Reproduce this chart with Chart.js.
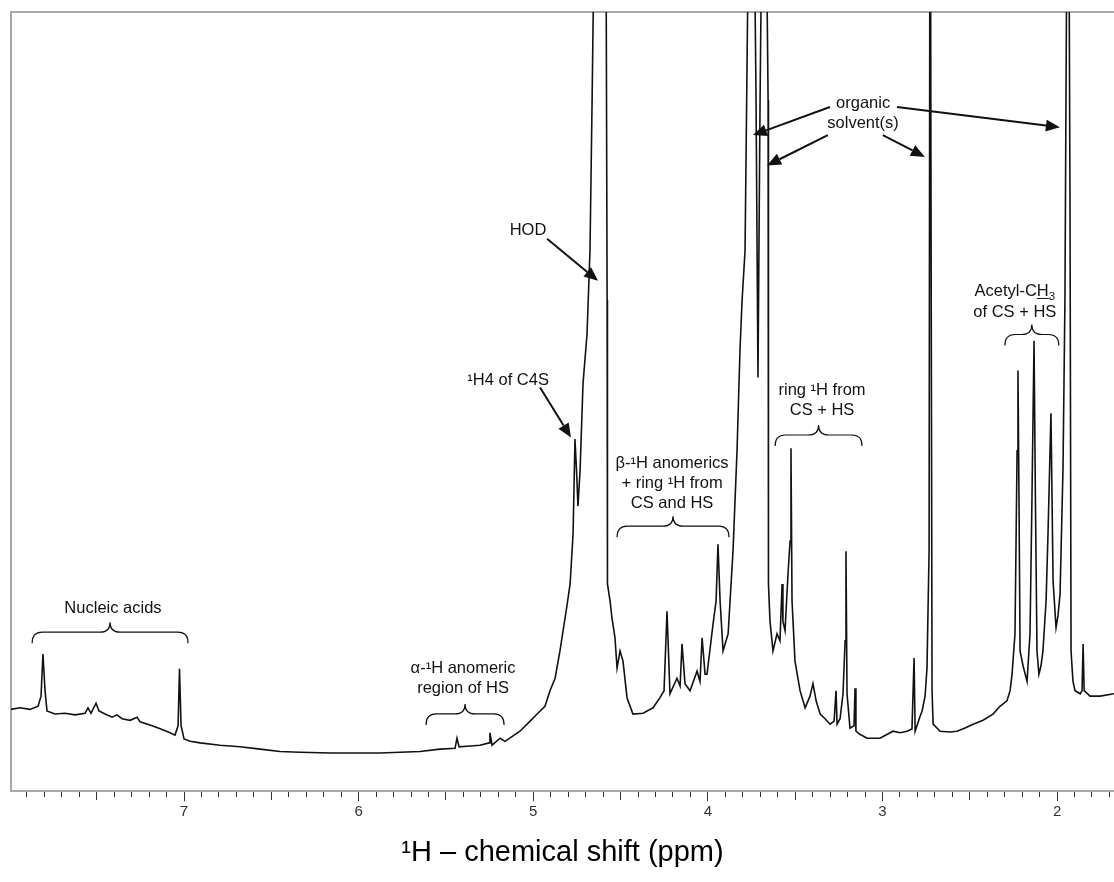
<!DOCTYPE html>
<html>
<head>
<meta charset="utf-8">
<title>1H NMR spectrum</title>
<script src="https://cdn.jsdelivr.net/npm/chart.js"></script>
<style>
  body { margin: 0; background: #fff; }
</style>
</head>
<body>
<canvas id="nmrChart" width="1114" height="882"></canvas>
<script>
// chemical shift (ppm), left to right
const shifts = [
  7.991, 7.939, 7.882, 7.836, 7.819, 7.808, 7.796, 7.785, 7.739, 7.682,
  7.624, 7.567, 7.550, 7.533, 7.504, 7.487, 7.452, 7.412, 7.384, 7.355,
  7.309, 7.269, 7.252, 7.195, 7.137, 7.080, 7.052, 7.034, 7.026, 7.017,
  7.000, 6.966, 6.908, 6.794, 6.679, 6.565, 6.450, 6.335, 6.164, 5.992,
  5.877, 5.763, 5.648, 5.534, 5.448, 5.437, 5.425, 5.362, 5.305, 5.253,
  5.248, 5.236, 5.190, 5.162, 5.116, 5.076, 5.018, 4.978, 4.933, 4.904,
  4.875, 4.847, 4.807, 4.789, 4.772, 4.761, 4.752, 4.744, 4.732, 4.715,
  4.692, 4.675, 4.663, 4.652, 4.618, 4.583, 4.577, 4.575, 4.560, 4.549,
  4.532, 4.520, 4.503, 4.486, 4.463, 4.429, 4.371, 4.314, 4.274, 4.251,
  4.234, 4.217, 4.177, 4.159, 4.148, 4.131, 4.102, 4.062, 4.045, 4.033,
  4.016, 4.005, 3.970, 3.953, 3.942, 3.930, 3.913, 3.884, 3.856, 3.833,
  3.816, 3.804, 3.787, 3.770, 3.747, 3.724, 3.713, 3.701, 3.678, 3.655,
  3.653, 3.644, 3.627, 3.604, 3.587, 3.575, 3.570, 3.558, 3.541, 3.529,
  3.524, 3.518, 3.501, 3.472, 3.443, 3.415, 3.398, 3.380, 3.357, 3.329,
  3.300, 3.277, 3.266, 3.260, 3.243, 3.226, 3.214, 3.209, 3.203, 3.186,
  3.163, 3.157, 3.152, 3.129, 3.088, 3.014, 2.940, 2.899, 2.859, 2.831,
  2.819, 2.813, 2.785, 2.773, 2.756, 2.745, 2.733, 2.727, 2.722, 2.716,
  2.710, 2.670, 2.613, 2.573, 2.527, 2.481, 2.424, 2.367, 2.327, 2.287,
  2.269, 2.258, 2.241, 2.229, 2.224, 2.218, 2.212, 2.195, 2.172, 2.155,
  2.144, 2.132, 2.124, 2.115, 2.104, 2.092, 2.081, 2.063, 2.052, 2.035,
  2.023, 2.006, 1.995, 1.983, 1.966, 1.955, 1.949, 1.937, 1.926, 1.920,
  1.909, 1.897, 1.868, 1.857, 1.851, 1.845, 1.811, 1.754, 1.674
];

// intensity, % of the plotted full scale (values over 100 run off the top)
const intensity = [
  10.5, 10.7, 10.5, 10.9, 12.2, 17.6, 12.9, 10.3, 9.9, 10.0,
  9.8, 10.0, 10.7, 10.0, 11.3, 10.3, 9.9, 9.5, 9.8, 9.3,
  9.1, 9.5, 8.9, 8.5, 8.0, 7.5, 7.2, 8.4, 15.7, 8.4,
  6.7, 6.4, 6.2, 5.9, 5.7, 5.4, 5.1, 5.0, 4.9, 4.9,
  4.9, 5.0, 5.1, 5.4, 5.5, 6.8, 5.7, 5.8, 5.9, 6.2,
  7.5, 5.9, 6.8, 6.4, 7.1, 7.7, 9.0, 9.9, 10.9, 12.9,
  14.5, 18.0, 23.8, 26.6, 33.0, 45.2, 41.1, 36.6, 41.1, 52.3,
  58.7, 69.4, 88.7, 108, 153, 108, 63.0, 26.6, 24.4, 22.2,
  19.7, 15.8, 18.0, 16.7, 12.0, 9.9, 10.0, 10.7, 12.0, 12.9,
  23.1, 12.5, 14.5, 13.5, 18.9, 13.8, 12.9, 15.4, 14.1, 19.7,
  15.0, 15.0, 21.5, 24.4, 31.7, 24.4, 18.0, 20.2, 30.8, 43.7,
  56.6, 63.0, 69.4, 105, 140, 88.7, 53.1, 88.7, 140, 88.7,
  26.6, 21.8, 18.0, 20.2, 19.3, 26.6, 21.8, 20.6, 27.9, 32.1,
  44.0, 24.4, 16.7, 12.9, 10.7, 12.2, 13.8, 11.6, 9.9, 9.3,
  8.6, 9.0, 12.9, 8.6, 9.3, 12.5, 19.3, 30.8, 12.5, 8.1,
  8.4, 13.2, 7.7, 7.3, 6.8, 6.8, 7.7, 7.5, 7.7, 8.0,
  17.1, 7.7, 9.6, 10.3, 12.2, 15.8, 30.8, 140, 75.8, 12.9,
  8.6, 7.7, 7.6, 7.7, 8.1, 8.6, 9.1, 9.9, 10.9, 11.6,
  12.9, 15.0, 20.2, 43.7, 54.0, 37.3, 18.0, 16.1, 14.1, 20.2,
  37.3, 57.8, 37.3, 18.0, 15.0, 16.1, 18.0, 24.4, 33.0, 48.5,
  27.0, 21.0, 22.5, 25.3, 41.5, 63.0, 88.7, 140, 75.8, 18.0,
  14.1, 12.9, 12.5, 12.9, 18.9, 12.9, 12.2, 12.2, 12.5
];

const majorTicks = [2, 3, 4, 5, 6, 7];

// annotation text, anchored at [ppm, intensity] of the first line
const notes = [
  { lines: ['Nucleic acids'], at: [7.407, 23.5] },
  { lines: ['α-¹H anomeric', 'region of HS'], at: [5.402, 15.8] },
  { lines: ['¹H4 of C4S'], at: [5.144, 52.7] },
  { lines: ['HOD'], at: [5.030, 72.0] },
  { lines: ['β-¹H anomerics', '+ ring ¹H from', 'CS and HS'], at: [4.205, 42.0] },
  { lines: ['ring ¹H from', 'CS + HS'], at: [3.346, 51.4] },
  { lines: ['organic', 'solvent(s)'], at: [3.111, 88.3] },
  { lines: [[['Acetyl-C'], ['H', 'u'], ['3', 'sub']], 'of CS + HS'], at: [2.242, 64.2] }
];
// braces: [from ppm, to ppm, intensity at the tips]
const braces = [
  [7.870, 6.977, 19.0],
  [5.614, 5.167, 8.5],
  [4.520, 3.879, 32.6],
  [3.615, 3.117, 44.3],
  [2.299, 1.990, 57.2]
];
// arrows: [ppm, intensity] start -> tip
const arrows = [
  [4.961, 51.8, 4.784, 45.4],
  [4.921, 70.9, 4.629, 65.5],
  [3.301, 87.8, 3.742, 84.2],
  [3.313, 84.2, 3.661, 80.3],
  [2.998, 84.2, 2.757, 81.4],
  [2.917, 87.8, 1.984, 85.2]
];

const FONT = '"Liberation Sans", Arial, sans-serif';

const annotate = {
  id: 'annotate',
  afterDatasetsDraw(chart) {
    const ctx = chart.ctx;
    const xs = chart.scales.x, ys = chart.scales.y;
    ctx.save();
    ctx.fillStyle = '#111';
    ctx.strokeStyle = '#111';
    ctx.textBaseline = 'middle';

    notes.forEach(n => {
      const cx = xs.getPixelForValue(n.at[0]);
      let cy = ys.getPixelForValue(n.at[1]);
      n.lines.forEach(line => {
        if (typeof line === 'string') {
          ctx.font = '16.5px ' + FONT;
          ctx.textAlign = 'center';
          ctx.fillText(line, cx, cy);
          cy += 20;
        } else {
          // rich line: segments with underline / subscript
          const fontOf = s => (s[1] === 'sub' ? '11.5px ' : '16.5px ') + FONT;
          const w = line.map(s => {
            ctx.font = fontOf(s);
            return ctx.measureText(s[0]).width;
          });
          let x = cx - w.reduce((a, b) => a + b, 0) / 2;
          ctx.textAlign = 'left';
          line.forEach((s, i) => {
            ctx.font = fontOf(s);
            ctx.fillText(s[0], x, s[1] === 'sub' ? cy + 6 : cy);
            if (s[1] === 'u') {
              ctx.lineWidth = 1;
              ctx.beginPath();
              ctx.moveTo(x, cy + 7.5);
              ctx.lineTo(x + w[i], cy + 7.5);
              ctx.stroke();
            }
            x += w[i];
          });
          cy += 21;
        }
      });
    });

    ctx.lineWidth = 1.2;
    braces.forEach(b => {
      const xa = xs.getPixelForValue(b[0]);
      const xb = xs.getPixelForValue(b[1]);
      const y0 = ys.getPixelForValue(b[2]);
      const xm = (xa + xb) / 2, h1 = 11, h2 = 21, r = 10;
      ctx.beginPath();
      ctx.moveTo(xa, y0);
      ctx.quadraticCurveTo(xa, y0 - h1, xa + r, y0 - h1);
      ctx.lineTo(xm - r, y0 - h1);
      ctx.quadraticCurveTo(xm, y0 - h1, xm, y0 - h2);
      ctx.quadraticCurveTo(xm, y0 - h1, xm + r, y0 - h1);
      ctx.lineTo(xb - r, y0 - h1);
      ctx.quadraticCurveTo(xb, y0 - h1, xb, y0);
      ctx.stroke();
    });

    arrows.forEach(a => {
      const x1 = xs.getPixelForValue(a[0]), y1 = ys.getPixelForValue(a[1]);
      const x2 = xs.getPixelForValue(a[2]), y2 = ys.getPixelForValue(a[3]);
      const ang = Math.atan2(y2 - y1, x2 - x1);
      const L = 14, W = 6;
      ctx.lineWidth = 2;
      ctx.beginPath();
      ctx.moveTo(x1, y1);
      ctx.lineTo(x2 - L * Math.cos(ang), y2 - L * Math.sin(ang));
      ctx.stroke();
      ctx.beginPath();
      ctx.moveTo(x2, y2);
      ctx.lineTo(x2 - L * Math.cos(ang) + W * Math.sin(ang), y2 - L * Math.sin(ang) - W * Math.cos(ang));
      ctx.lineTo(x2 - L * Math.cos(ang) - W * Math.sin(ang), y2 - L * Math.sin(ang) + W * Math.cos(ang));
      ctx.closePath();
      ctx.fill();
    });
    ctx.restore();
  }
};

const isMajor = v => majorTicks.includes(Math.round(v * 10) / 10);
const isHalf = v => Math.abs(v * 2 - Math.round(v * 2)) < 1e-6;

new Chart(document.getElementById('nmrChart'), {
  type: 'line',
  data: {
    datasets: [{
      data: shifts.map((s, i) => ({ x: s, y: intensity[i] })),
      borderColor: '#111',
      borderWidth: 1.6,
      pointRadius: 0,
      tension: 0,
      fill: false
    }]
  },
  options: {
    responsive: false,
    animation: false,
    layout: { padding: { left: 11, top: 12, right: 0, bottom: 0 } },
    plugins: { legend: { display: false }, tooltip: { enabled: false } },
    scales: {
      x: {
        type: 'linear',
        position: 'bottom',
        reverse: true,
        min: 1.674,
        max: 7.991,
        border: { color: '#a8a8a8', width: 2 },
        grid: {
          drawOnChartArea: false,
          tickLength: 10,
          tickColor: '#333',
          tickWidth: 1,
          tickBorderDash: c => isMajor(c.tick.value) ? [] : (isHalf(c.tick.value) ? [8, 50] : [5, 50])
        },
        ticks: {
          stepSize: 0.1,
          includeBounds: false,
          autoSkip: false,
          maxRotation: 0,
          padding: 2,
          color: '#333',
          font: { family: FONT, size: 15 },
          callback: v => isMajor(v) ? String(Math.round(v)) : ''
        },
        title: {
          display: true,
          text: '¹H – chemical shift (ppm)',
          color: '#000',
          font: { family: FONT, size: 29 },
          padding: { top: 12, bottom: 12 }
        }
      },
      xTop: {
        type: 'linear',
        position: 'top',
        reverse: true,
        min: 1.674,
        max: 7.991,
        border: { color: '#a8a8a8', width: 2 },
        grid: { display: false, drawTicks: false },
        ticks: { display: false }
      },
      y: {
        min: 0,
        max: 100,
        border: { color: '#a8a8a8', width: 2 },
        grid: { display: false, drawTicks: false },
        ticks: { display: false }
      }
    }
  },
  plugins: [annotate]
});
</script>
</body>
</html>
